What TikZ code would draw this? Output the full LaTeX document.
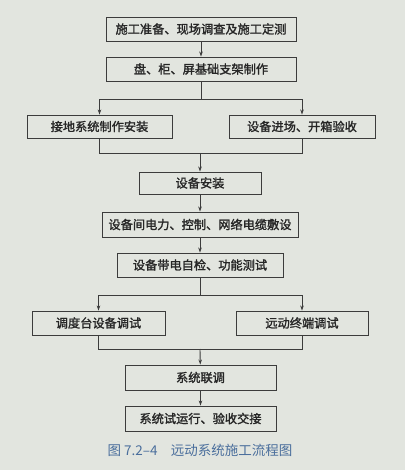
\documentclass[tikz,border=0pt]{standalone}
\usepackage{fontspec}
\newfontfamily\cjk{Noto Sans CJK SC}
\newfontfamily\cjkheavy[FakeBold=1.6]{Noto Sans CJK SC}
\usetikzlibrary{arrows.meta}
\definecolor{pagebg}{HTML}{E2E5DF}
\definecolor{boxline}{HTML}{3C3C3C}
\definecolor{capblue}{HTML}{4A6E9C}

\begin{document}
\begin{tikzpicture}[
        x=1pt, y=-1pt,
        every node/.style={font=\cjkheavy\fontsize{12.2}{14}\selectfont, text=black!85},
        stepbox/.style={draw=boxline, line width=0.9pt, inner sep=0pt},
        flow/.style={draw=boxline, line width=0.9pt},
        arr/.style={flow, -{Stealth[length=5pt,width=3.5pt]}}]

        \fill[pagebg] (0,0) rectangle (405,470);
        \useasboundingbox (0,0) rectangle (405,470);

        \node[stepbox, minimum width=190pt, minimum height=24pt] (prep) at (201,29) {施工准备、现场调查及施工定测};
        \node[stepbox, minimum width=190pt, minimum height=24pt] (frame) at (201,69) {盘、柜、屏基础支架制作};
        \node[stepbox, minimum width=145pt, minimum height=23pt] (ground) at (99.5,126.5) {接地系统制作安装};
        \node[stepbox, minimum width=146pt, minimum height=23pt] (arrive) at (302,126.5) {设备进场、开箱验收};
        \node[stepbox, minimum width=122pt, minimum height=22pt] (install) at (200,183) {设备安装};
        \node[stepbox, minimum width=196pt, minimum height=25pt] (cable) at (200,224.5) {设备间电力、控制、网络电缆敷设};
        \node[stepbox, minimum width=166pt, minimum height=24pt] (selftest) at (200,265) {设备带电自检、功能测试};
        \node[stepbox, minimum width=133pt, minimum height=24pt] (desk) at (98.5,323) {调度台设备调试};
        \node[stepbox, minimum width=132pt, minimum height=24pt] (rtu) at (302,323) {远动终端调试};
        \node[stepbox, minimum width=151pt, minimum height=25pt] (joint) at (200.5,377.5) {系统联调};
        \node[stepbox, minimum width=151pt, minimum height=25pt] (handover) at (200.5,418.5) {系统试运行、验收交接};

        \node[text=capblue, font=\cjk\fontsize{13.5}{16}\selectfont] (caption) at (200,450) {图 7.2–4　远动系统施工流程图};

        \coordinate (split1) at (201,99);
        \coordinate (merge1) at (200,153);
        \coordinate (split2) at (200,295);
        \coordinate (merge2) at (200,349);

        \draw[arr] (prep) -- (frame);
        \draw[flow] (frame) -- (split1);
        \draw[arr] (split1) -| (ground);
        \draw[arr] (split1) -| (arrive);
        \draw[flow] (ground) |- (merge1);
        \draw[flow] (arrive) |- (merge1);
        \draw[arr] (merge1) -- (install);
        \draw[arr] (install) -- (cable);
        \draw[arr] (cable) -- (selftest);
        \draw[flow] (selftest) -- (split2);
        \draw[arr] (split2) -| (desk);
        \draw[arr] (split2) -| (rtu);
        \draw[flow] (desk) |- (merge2);
        \draw[flow] (rtu) |- (merge2);
        \draw[arr] (merge2) -- (joint);
        \draw[arr] (joint) -- (handover);

    \end{tikzpicture}
\end{document}
